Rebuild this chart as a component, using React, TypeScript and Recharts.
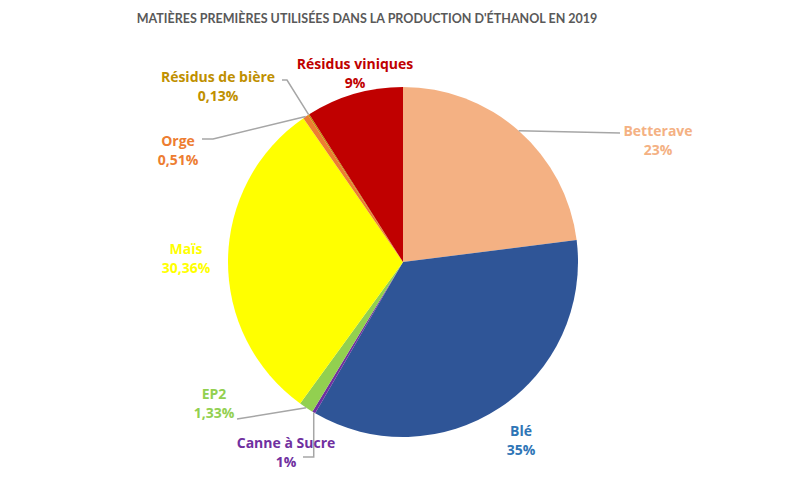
import { Cell, Pie, PieChart } from 'recharts';

const NAMES = [
  'Betterave',
  'Blé',
  'Canne à Sucre',
  'EP2',
  'Maïs',
  'Orge',
  'Résidus de bière',
  'Résidus viniques',
];
const SHARES = [23, 35.37, 0.3, 1.33, 30.36, 0.51, 0.13, 9];
const SHOWN = ['23%', '35%', '1%', '1,33%', '30,36%', '0,51%', '0,13%', '9%'];

const SLICE_COLORS = ['#F4B183', '#2F5597', '#7030A0', '#92D050', '#FFFF00', '#ED7D31', '#BF9000', '#C00000'];
const TEXT_COLORS = ['#F4B183', '#2E75B6', '#7030A0', '#92D050', '#FFFF00', '#ED7D31', '#BF9000', '#C00000'];

const TITLE = "MATIÈRES PREMIÈRES UTILISÉES DANS LA PRODUCTION D'ÉTHANOL EN 2019";

// label placement, offsets from the pie centre
type Place = { tx: number; ty: number; line?: (edge: [number, number]) => [number, number][] };
const PLACES: Place[] = [
  { tx: 255, ty: -132, line: () => [[217, -129]] },
  { tx: 118, ty: 168 },
  { tx: -117, ty: 180, line: (e) => [[e[0], 195], [-100, 195]] },
  { tx: -189, ty: 131, line: () => [[-166, 157]] },
  { tx: -217, ty: -14 },
  { tx: -225, ty: -122, line: () => [[-190, -123], [-201, -123]] },
  { tx: -185, ty: -186, line: () => [[-116, -182], [-121, -182]] },
  { tx: -48, ty: -199 },
];

const data = NAMES.map((name, i) => ({ name, value: SHARES[i], shown: SHOWN[i] }));

const RAD = Math.PI / 180;

function renderLabel(props: any) {
  const { cx, cy, midAngle, outerRadius, index } = props;
  const p = PLACES[index];
  const ex = outerRadius * Math.cos(-midAngle * RAD);
  const ey = outerRadius * Math.sin(-midAngle * RAD);
  const pts: [number, number][] = p.line ? [[ex, ey], ...p.line([ex, ey])] : [];
  return (
    <g key={`lbl-${index}`}>
      {pts.length > 0 && (
        <polyline
          points={pts.map(([x, y]) => `${cx + x},${cy + y}`).join(' ')}
          fill="none"
          stroke="#A6A6A6"
          strokeWidth={1.5}
        />
      )}
      <text
        x={cx + p.tx}
        y={cy + p.ty}
        textAnchor="middle"
        dominantBaseline="central"
        fill={TEXT_COLORS[index]}
        fontFamily="'Open Sans', sans-serif"
        fontWeight={700}
        fontSize={14}
      >
        <tspan x={cx + p.tx} dy={0}>{data[index].name}</tspan>
        <tspan x={cx + p.tx} dy={19}>{data[index].shown}</tspan>
      </text>
    </g>
  );
}

export default function App() {
  return (
    <div style={{ position: 'absolute', left: 0, top: 0, width: 807, height: 489, background: '#fff' }}>
      <PieChart width={807} height={489} margin={{ top: 0, right: 0, bottom: 0, left: 0 }}>
        <text
          x={367}
          y={18}
          textAnchor="middle"
          dominantBaseline="central"
          fill="#595959"
          fontFamily="Lato, sans-serif"
          fontWeight={700}
          fontSize={12.5}
        >
          {TITLE}
        </text>
        <Pie
          data={data}
          dataKey="value"
          nameKey="name"
          cx={403}
          cy={262}
          outerRadius={175}
          startAngle={90}
          endAngle={-270}
          stroke="none"
          labelLine={false}
          label={renderLabel}
          isAnimationActive={false}
        >
          {data.map((_, i) => (
            <Cell key={i} fill={SLICE_COLORS[i]} />
          ))}
        </Pie>
      </PieChart>
    </div>
  );
}
